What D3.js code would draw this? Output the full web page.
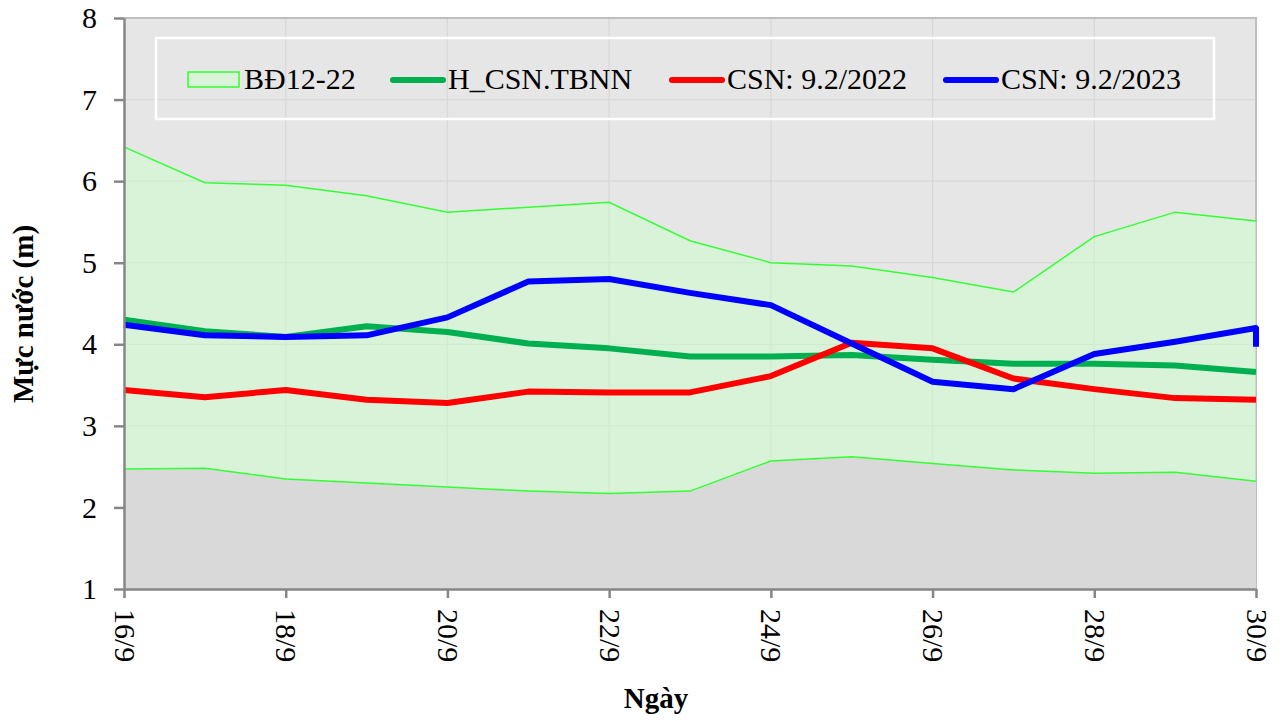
<!DOCTYPE html>
<html>
<head>
<meta charset="utf-8">
<script src="https://cdn.jsdelivr.net/npm/d3@7"></script>
<style>
  body { margin: 0; background: #fff; }
  svg { display: block; font-family: "Liberation Serif", "Times New Roman", serif; }
</style>
</head>
<body>
<svg id="chart" width="1284" height="721"></svg>
<script>
"use strict"

// days on the x axis
const days = ["16/9", "17/9", "18/9", "19/9", "20/9", "21/9", "22/9", "23/9",
              "24/9", "25/9", "26/9", "27/9", "28/9", "29/9", "30/9"]
const dayTicks = ["16/9", "18/9", "20/9", "22/9", "24/9", "26/9", "28/9", "30/9"]
const yTicks = [1, 2, 3, 4, 5, 6, 7, 8]

// BĐ12-22 band (min / max)
const bandMax = [6.42, 5.98, 5.95, 5.82, 5.62, 5.68, 5.74, 5.27, 5.00, 4.96, 4.82, 4.64, 5.32, 5.62, 5.51]
const bandMin = [2.47, 2.48, 2.35, 2.30, 2.25, 2.20, 2.17, 2.20, 2.57, 2.62, 2.54, 2.46, 2.42, 2.43, 2.32]

// H_CSN.TBNN
const tbnn = [4.30, 4.16, 4.09, 4.22, 4.15, 4.01, 3.95, 3.85, 3.85, 3.87, 3.81, 3.76, 3.76, 3.74, 3.66]

// CSN: 9.2/2022
const csn2022 = [3.44, 3.35, 3.44, 3.32, 3.28, 3.42, 3.41, 3.41, 3.61, 4.02, 3.95, 3.58, 3.45, 3.34, 3.32]

// CSN: 9.2/2023 (last reading sits on 30/9 too)
const csn2023 = [4.24, 4.11, 4.09, 4.11, 4.33, 4.77, 4.80, 4.63, 4.48, 4.01, 3.54, 3.45, 3.88, 4.03, 4.20, 3.97]
const csn2023Days = days.concat(["30/9"])

const seriesNames = ["BĐ12-22", "H_CSN.TBNN", "CSN: 9.2/2022", "CSN: 9.2/2023"]

const svg = d3.select("#chart")
const plotL = 124, plotR = 1256, plotT = 18, plotB = 589

const x = d3.scalePoint().domain(days).range([plotL, plotR])
const y = d3.scaleLinear().domain([1, 8]).range([plotB, plotT])

// plot background
svg.append("rect")
   .attr("x", plotL).attr("y", plotT)
   .attr("width", plotR - plotL).attr("height", plotB - plotT)
   .attr("fill", "#e6e6e6")

// grid
const grid = svg.append("g").attr("stroke", "#d7d7d7").attr("stroke-width", 1.2)
grid.selectAll("line.h").data(yTicks.slice(1, -1)).enter().append("line")
    .attr("x1", plotL).attr("x2", plotR)
    .attr("y1", d => y(d)).attr("y2", d => y(d))
grid.selectAll("line.v").data(dayTicks.slice(1, -1)).enter().append("line")
    .attr("x1", d => x(d)).attr("x2", d => x(d))
    .attr("y1", plotT).attr("y2", plotB)

// plot border (top / right)
svg.append("path")
   .attr("d", `M${plotL},${plotT}H${plotR}V${plotB}`)
   .attr("fill", "none").attr("stroke", "#bfbfbf").attr("stroke-width", 2)

// gray area below the band
const lowArea = d3.area()
    .x((d, i) => x(days[i]))
    .y0(y(1))
    .y1(d => y(d))
svg.append("path").datum(bandMin)
   .attr("d", lowArea).attr("fill", "#d9d9d9")

// band
const band = d3.area()
    .x((d, i) => x(days[i]))
    .y0((d, i) => y(bandMin[i]))
    .y1(d => y(d))
svg.append("path").datum(bandMax)
   .attr("d", band).attr("fill", "#ccffcc").attr("fill-opacity", 0.5)

const lineOf = xs => d3.line().x((d, i) => x(xs[i])).y(d => y(d))

svg.selectAll("path.edge").data([bandMin, bandMax]).enter().append("path")
   .attr("d", lineOf(days))
   .attr("fill", "none").attr("stroke", "#33ff33").attr("stroke-width", 1.5)

// series lines
const lines = [
    { values: tbnn,    xs: days,        color: "#00b050" },
    { values: csn2022, xs: days,        color: "#ff0000" },
    { values: csn2023, xs: csn2023Days, color: "#0000ff" }
]
lines.forEach(s => {
    svg.append("path").datum(s.values)
       .attr("d", lineOf(s.xs))
       .attr("fill", "none").attr("stroke", s.color)
       .attr("stroke-width", 6).attr("stroke-linejoin", "round")
})

// axes
const yAxis = svg.append("g")
   .attr("transform", `translate(${plotL},0)`)
   .call(d3.axisLeft(y).tickValues(yTicks).tickSize(10).tickSizeOuter(0).tickPadding(17).tickFormat(d3.format("d")))
const xAxis = svg.append("g")
   .attr("transform", `translate(0,${plotB})`)
   .call(d3.axisBottom(x).tickValues(dayTicks).tickSize(9).tickSizeOuter(0))

svg.selectAll(".domain, .tick line").attr("stroke", "#868686").attr("stroke-width", 2.5)
yAxis.selectAll("text").attr("font-size", 30).attr("fill", "#000")
     .attr("font-family", "Liberation Serif, Times New Roman, serif")
xAxis.selectAll("text")
     .attr("font-size", 30).attr("fill", "#000")
     .attr("font-family", "Liberation Serif, Times New Roman, serif")
     .attr("transform", "rotate(90)")
     .attr("x", 20).attr("y", 0).attr("dy", "0.33em")
     .style("text-anchor", "start")

// axis titles
svg.append("text")
   .attr("transform", "translate(33,314) rotate(-90)")
   .attr("text-anchor", "middle").attr("font-weight", "bold").attr("font-size", 29)
   .text("Mực nước (m)")
svg.append("text")
   .attr("x", 656).attr("y", 708)
   .attr("text-anchor", "middle").attr("font-weight", "bold").attr("font-size", 29)
   .text("Ngày")

// legend
const legend = svg.append("g")
legend.append("rect")
   .attr("x", 156).attr("y", 38).attr("width", 1058).attr("height", 81)
   .attr("fill", "none").attr("stroke", "#fff").attr("stroke-width", 2.5)

const legendX = [188, 391, 670, 944]
legend.append("rect")
   .attr("x", legendX[0]).attr("y", 72).attr("width", 51).attr("height", 15)
   .attr("fill", "#ccffcc").attr("fill-opacity", 0.5)
   .attr("stroke", "#33ff33").attr("stroke-width", 1.5)

lines.forEach((s, i) => {
    legend.append("line")
          .attr("x1", legendX[i + 1] + 2).attr("x2", legendX[i + 1] + 52)
          .attr("y1", 80).attr("y2", 80)
          .attr("stroke", s.color).attr("stroke-width", 6).attr("stroke-linecap", "round")
})

legend.selectAll("text").data(seriesNames).enter().append("text")
      .attr("x", (d, i) => legendX[i] + (i == 0 ? 56 : 57))
      .attr("y", 89)
      .attr("font-size", 30)
      .text(d => d)
</script>
</body>
</html>
